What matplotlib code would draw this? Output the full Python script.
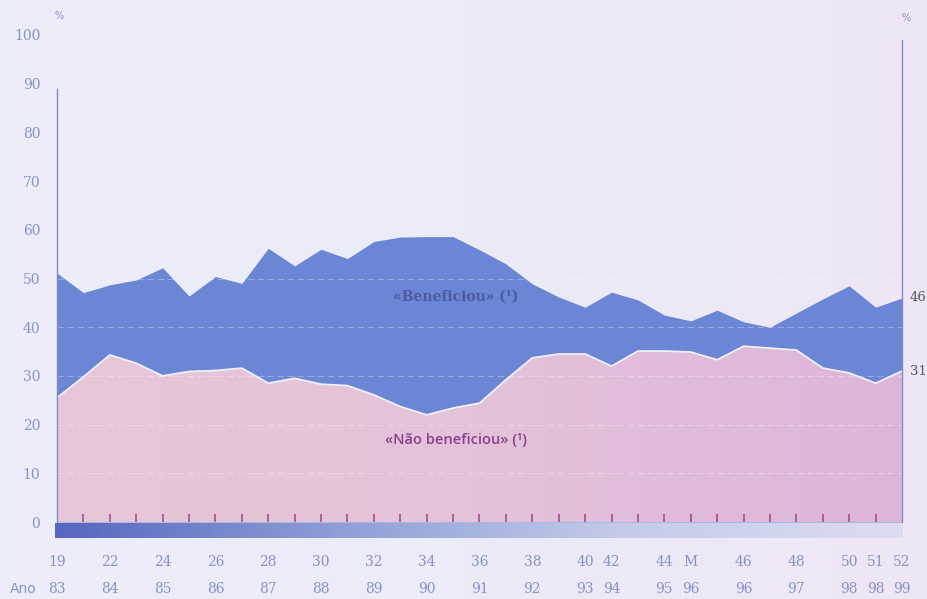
import numpy as np
import matplotlib
matplotlib.use("Agg")
import matplotlib.pyplot as plt
from matplotlib.colors import LinearSegmentedColormap

# Survey rounds (one point per round) and their axis labels
rounds = list(range(33))
round_labels = ["19", "", "22", "", "24", "", "26", "", "28", "", "30", "", "32", "", "34", "",
                "36", "", "38", "", "40", "42", "", "44", "M", "", "46", "", "48", "", "50", "51", "52"]
year_labels = ["83", "", "84", "", "85", "", "86", "", "87", "", "88", "", "89", "", "90", "",
               "91", "", "92", "", "93", "94", "", "95", "96", "", "96", "", "97", "", "98", "98", "99"]

# Share of respondents (%)
beneficiou = [51.1, 47.1, 48.7, 49.7, 52.2, 46.4, 50.4, 49.0, 56.2, 52.6, 56.0, 54.1, 57.6,
              58.5, 58.6, 58.6, 55.9, 53.0, 48.9, 46.2, 44.1, 47.2, 45.6, 42.5, 41.3, 43.5,
              41.1, 40.0, 42.9, 45.8, 48.5, 44.1, 46]
nao_beneficiou = [25.5, 29.8, 34.3, 32.6, 30.0, 30.9, 31.1, 31.6, 28.5, 29.5, 28.3, 28.0, 26.1,
                  23.7, 22.0, 23.4, 24.4, 29.2, 33.7, 34.5, 34.5, 32.0, 35.1, 35.1, 34.9, 33.3,
                  36.1, 35.7, 35.3, 31.6, 30.6, 28.5, 31]
y_ticks = [0, 10, 20, 30, 40, 50, 60, 70, 80, 90, 100]

W, H = 928, 599
fig = plt.figure(figsize=(W / 100, H / 100), dpi=100)

# paper-like lavender background with a slight pink cast to the right
bg = fig.add_axes([0, 0, 1, 1], zorder=-10)
bg_cmap = LinearSegmentedColormap.from_list("bg", ["#eceef9", "#ecebf8", "#efe6f5"])
bg.imshow(np.linspace(0, 1, 256)[None, :], aspect="auto", cmap=bg_cmap, extent=[0, 1, 0, 1])
bg.set_axis_off()

x0, x1 = 57 / W, 902 / W
yb, yt = 1 - 522 / H, 1 - 35 / H
ax = fig.add_axes([x0, yb, x1 - x0, yt - yb])
ax.patch.set_alpha(0)
ax.set_xlim(rounds[0], rounds[-1])
ax.set_ylim(0, 100)

blue = "#6a86d4"
pink_cmap = LinearSegmentedColormap.from_list("pink", ["#e7c6d8", "#e4c2da", "#ddb5d8"])

ax.fill_between(rounds, 0, beneficiou, color=blue, lw=0, zorder=1)
pink = ax.fill_between(rounds, 0, nao_beneficiou, color="none", lw=0, zorder=2)
# horizontal colour drift on the pink area, clipped to its outline
grad = ax.imshow(np.linspace(0, 1, 256)[None, :], aspect="auto", cmap=pink_cmap,
                 extent=[rounds[0], rounds[-1], 0, 100], zorder=2)
grad.set_clip_path(pink.get_paths()[0], transform=ax.transData)
ax.plot(rounds, nao_beneficiou, color="#eef0fa", lw=1.3, zorder=3)

# faint gridlines
for v in y_ticks[1:-1]:
    ax.axhline(v, color="white", lw=0.8, alpha=0.3, ls=(0, (6, 3)), zorder=4)

# small tick marks per round
ax.vlines(rounds[1:-1], 0, 1.6, color="#a0508e", lw=1.2, zorder=5)

for s in ["top", "bottom", "left", "right"]:
    ax.spines[s].set_visible(False)
ax.plot([0, 0], [0, 89], color="#7c8cc8", lw=1.0, zorder=6, clip_on=False)
ax.plot([32, 32], [0, 99], color="#7c8cc8", lw=1.0, zorder=6, clip_on=False)

ax.set_xticks([])
ax.set_yticks(y_ticks)
ax.set_yticklabels([str(v) for v in y_ticks], fontsize=10, color="#8493c8",
                   family="DejaVu Serif")
ax.tick_params(axis="y", length=0, pad=12)

# gradient strip beneath the baseline
band = fig.add_axes([55 / W, 1 - 538 / H, (903 - 55) / W, 15 / H])
band_cmap = LinearSegmentedColormap.from_list("band", ["#5567bf", "#8e9ed6", "#c3cbea", "#dcdcf1"])
band.imshow(np.linspace(0, 1, 256)[None, :], aspect="auto", cmap=band_cmap)
band.set_axis_off()

# survey / year labels
lab_col = "#8493c8"
for i, (r, yr) in enumerate(zip(round_labels, year_labels)):
    xf = x0 + (x1 - x0) * i / 32
    if r:
        fig.text(xf, 1 - 562 / H, r, ha="center", va="center", fontsize=10,
                 color=lab_col, family="DejaVu Serif")
    if yr:
        fig.text(xf, 1 - 589 / H, yr, ha="center", va="center", fontsize=10,
                 color=lab_col, family="DejaVu Serif")
fig.text(x0 - 20 / W, 1 - 589 / H, "Ano", ha="right", va="center", fontsize=10,
         color=lab_col, family="DejaVu Sans")

fig.text(x0 + 2 / W, 1 - 16 / H, "%", ha="center", va="center", fontsize=7, color=lab_col)
fig.text(x1 + 4 / W, 1 - 18 / H, "%", ha="center", va="center", fontsize=7, color=lab_col)

# series captions and end values
ax.text(15.1, 46.2, "«Beneficiou» (¹)", ha="center", va="center", fontsize=10,
        color="#4c5c9e", family="DejaVu Serif", fontweight="bold", zorder=7)
ax.text(15.1, 16.8, "«Não beneficiou» (¹)", ha="center", va="center", fontsize=10.5,
        color="#8a3f8e", family="Open Sans", fontweight="semibold", zorder=7)
ax.text(32.3, beneficiou[-1], str(round(beneficiou[-1])), ha="left", va="center",
        fontsize=9.5, color="#555566", family="DejaVu Serif", clip_on=False)
ax.text(32.3, nao_beneficiou[-1], str(round(nao_beneficiou[-1])), ha="left", va="center",
        fontsize=9.5, color="#555566", family="DejaVu Serif", clip_on=False)

fig.savefig("out.png", dpi=100)
